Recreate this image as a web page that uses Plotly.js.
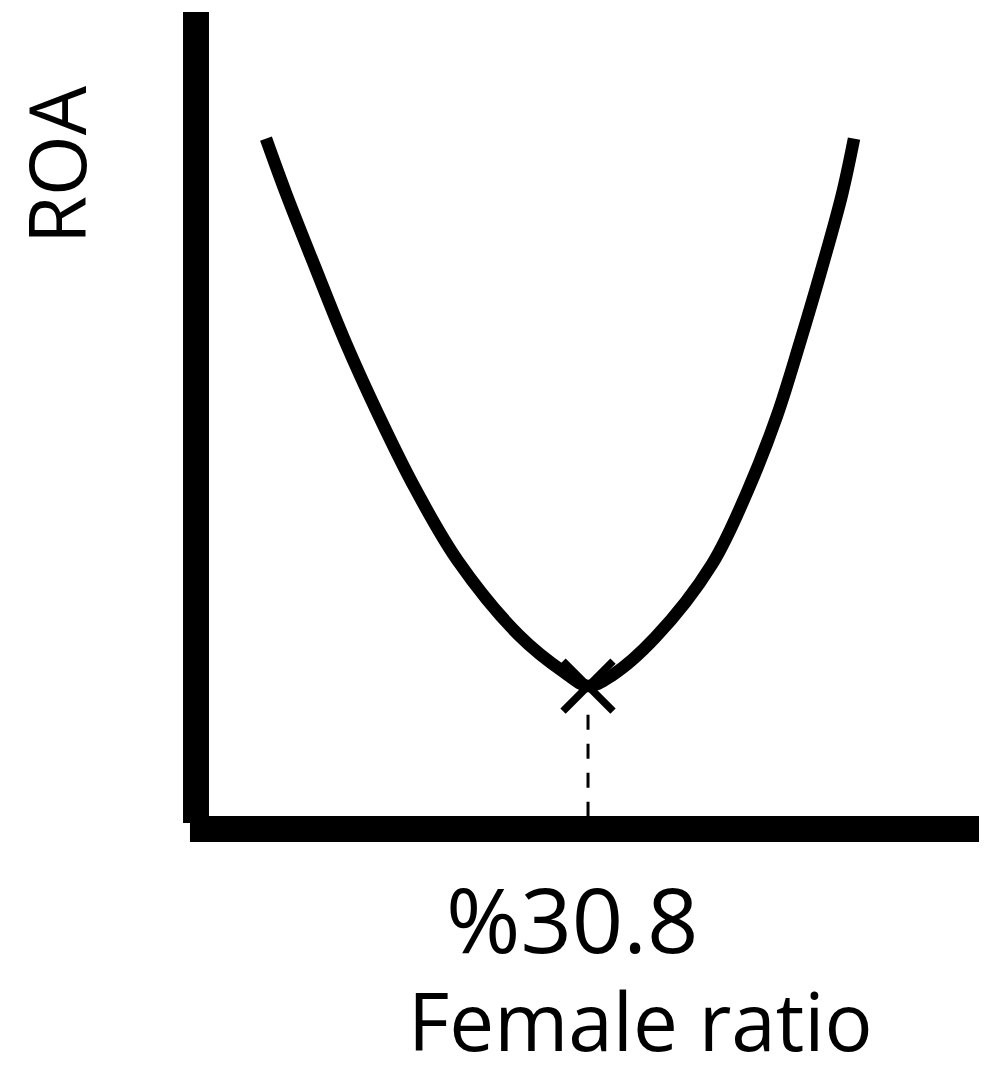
<!DOCTYPE html>
<html>
<head>
<meta charset="utf-8">
<script src="https://cdn.plot.ly/plotly-3.0.1.min.js"></script>
<style>html,body{margin:0;padding:0;background:#fff;}#chart{width:991px;height:1073px;}</style>
</head>
<body>
<div id="chart"></div>
<script>
// Female ratio (%) and ROA (arbitrary units)
const femaleRatio = [5.50, 7.07, 9.35, 11.71, 14.30, 17.21, 20.58, 25.38, 28.91, 30.80,
                     32.68, 36.06, 40.54, 43.37, 45.65, 47.46, 49.18, 50.76, 51.70];
const roa         = [8.45, 7.78, 6.88, 5.97, 5.08, 4.17, 3.28, 2.37, 1.92, 1.75,
                     1.88, 2.34, 3.24, 4.15, 5.06, 5.96, 6.87, 7.77, 8.45];
const optimumX = [30.8];
const optimumY = [1.75];
const dashTopY = 1.42;
const xLabels = ['%30.8'];
const xTitle = 'Female ratio';
const yTitle = 'ROA';

const font = '"Open Sans", "Noto Sans", sans-serif';

const traces = [
  {
    x: femaleRatio, y: roa, type: 'scatter', mode: 'lines',
    line: {color: '#000', width: 12.5, shape: 'spline', smoothing: 1.0, simplify: false},
    hoverinfo: 'skip', showlegend: false
  },
  {
    x: optimumX, y: optimumY, type: 'scatter', mode: 'markers',
    marker: {symbol: 'x-thin', size: 50, color: '#000', line: {color: '#000', width: 7.5}},
    hoverinfo: 'skip', showlegend: false
  }
];

const layout = {
  width: 991, height: 1073,
  margin: {l: 196, r: 13, t: 12, b: 244, pad: 0},
  paper_bgcolor: '#fff', plot_bgcolor: '#fff',
  showlegend: false,
  xaxis: {range: [0, 61.44], visible: false, fixedrange: true},
  yaxis: {range: [0, 10], visible: false, fixedrange: true},
  shapes: [
    // vertical axis bar
    {type: 'rect', xref: 'paper', yref: 'paper', x0: -0.0166, x1: 0.0166, y0: 0.0073, y1: 1.0,
     fillcolor: '#000', line: {width: 0}},
    // horizontal axis bar
    {type: 'rect', xref: 'paper', yref: 'paper', x0: -0.0077, x1: 1.0013, y0: -0.0159, y1: 0.0159,
     fillcolor: '#000', line: {width: 0}},
    // dashed drop line
    {type: 'line', xref: 'x', yref: 'y', x0: optimumX[0], x1: optimumX[0], y0: 0.15, y1: dashTopY,
     line: {color: '#000', width: 3, dash: '15px,14px'}}
  ],
  annotations: [
    {xref: 'paper', yref: 'paper', x: -0.179, y: 0.8127, text: yTitle, showarrow: false,
     textangle: -90, xanchor: 'center', yanchor: 'middle', font: {family: font, size: 78, color: '#000'}},
    {xref: 'paper', yref: 'paper', x: (572 - 196) / 782, y: (829 - 918) / 817, text: xLabels[0], showarrow: false,
     xanchor: 'center', yanchor: 'middle', font: {family: font, size: 90, color: '#000'}},
    {xref: 'paper', yref: 'paper', x: (640 - 196) / 782, y: (829 - 1019) / 817, text: xTitle, showarrow: false,
     xanchor: 'center', yanchor: 'middle', font: {family: font, size: 80, color: '#000'}}
  ]
};

Plotly.newPlot('chart', traces, layout, {staticPlot: true, displayModeBar: false});
</script>
</body>
</html>
